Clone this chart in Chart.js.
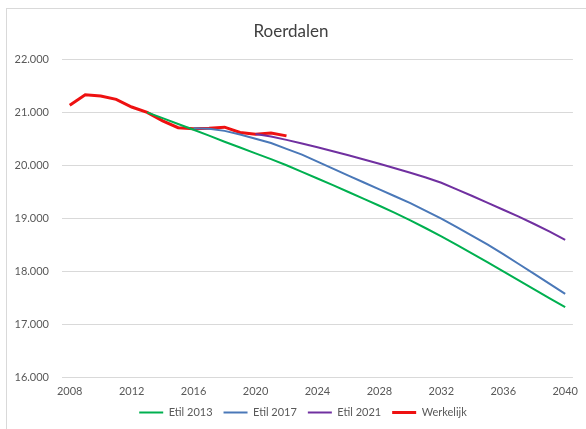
<!DOCTYPE html>
<html>
<head>
<meta charset="utf-8">
<script src="https://cdn.jsdelivr.net/npm/chart.js@4.4.1/dist/chart.umd.min.js"></script>
<style>
  html, body { margin: 0; padding: 0; background: #fff; }
  canvas { display: block; }
</style>
</head>
<body>
<canvas id="chart" width="586" height="429"></canvas>
<script>
// years on the category axis
const years = [];
for (let y = 2008; y <= 2040; y++) years.push(y);

// one value per year (null = no value)
const etil2013 = [null, null, null, null, null,
  21000, 20890, 20780, 20670, 20560, 20445, 20335, 20225, 20115, 20000,
  19875, 19750, 19625, 19495, 19365, 19235, 19100, 18960, 18810, 18655,
  18495, 18330, 18165, 17995, 17825, 17655, 17485, 17320];

const etil2017 = [null, null, null, null, null, null, null, null,
  20700, 20690, 20650, 20580, 20500, 20420, 20310,
  20200, 20070, 19935, 19805, 19675, 19545, 19415, 19285, 19140, 18990,
  18830, 18665, 18500, 18320, 18135, 17950, 17760, 17570];

const etil2021 = [null, null, null, null, null, null, null, null, null, null, null, null,
  20590, 20545, 20480,
  20410, 20340, 20265, 20190, 20110, 20030, 19945, 19860, 19770, 19670,
  19545, 19420, 19290, 19160, 19030, 18890, 18745, 18590];

const werkelijk = [21135, 21330, 21310, 21245, 21100, 21000, 20840, 20710,
  20690, 20700, 20720, 20620, 20585, 20610, 20555];

const yTicks = { min: 16000, max: 22000, step: 1000 };

const font = 'Lato, "Open Sans", sans-serif';
const textGrey = '#595959';

// white page with the light grey frame round the chart
const frame = {
  id: 'frame',
  beforeDraw(chart) {
    const ctx = chart.ctx;
    ctx.save();
    ctx.fillStyle = '#fff';
    ctx.fillRect(0, 0, chart.width, chart.height);
    ctx.strokeStyle = '#d9d9d9';
    ctx.lineWidth = 1;
    ctx.strokeRect(6.5, 8.5, chart.width + 10, chart.height + 10);
    ctx.restore();
  }
};

// the legend sits a bit right of the page centre, like in Excel
const nudgeLegend = {
  id: 'nudgeLegend',
  afterLayout(chart) {
    chart.legend.left += 12;
    chart.legend.right += 12;
  }
};

function line(label, data, color, width) {
  return {
    label: label,
    data: data,
    borderColor: color,
    backgroundColor: color,
    borderWidth: width,
    pointRadius: 0,
    pointHoverRadius: 0,
    tension: 0,
    fill: false
  };
}

new Chart(document.getElementById('chart'), {
  type: 'line',
  data: {
    labels: years,
    datasets: [
      line('Etil 2013', etil2013, '#00b050', 2),
      line('Etil 2017', etil2017, '#4a78b8', 2),
      line('Etil 2021', etil2021, '#7030a0', 2),
      line('Werkelijk', werkelijk, '#ee1111', 3)
    ]
  },
  options: {
    responsive: false,
    animation: false,
    layout: { padding: { top: 8, left: 0, right: 4, bottom: 1 } },
    plugins: {
      title: {
        display: true,
        text: 'Roerdalen',
        color: '#404040',
        font: { family: font, size: 17, weight: 'normal' },
        padding: { top: 13, bottom: 18 }
      },
      legend: {
        position: 'bottom',
        labels: {
          usePointStyle: true,
          pointStyle: 'line',
          pointStyleWidth: 24,
          boxHeight: 11,
          padding: 11,
          color: textGrey,
          font: { family: font, size: 11 }
        }
      },
      tooltip: { enabled: false }
    },
    scales: {
      x: {
        type: 'category',
        offset: true,
        grid: { display: false, drawTicks: false },
        border: { display: false },
        ticks: {
          autoSkip: false,
          maxRotation: 0,
          padding: 8,
          color: textGrey,
          font: { family: font, size: 11 },
          callback: function (v, i) {
            const y = years[i];
            return y % 4 === 0 ? String(y) : '';
          }
        },
        afterFit: function (s) { s.height = 19; }
      },
      y: {
        min: yTicks.min,
        max: yTicks.max,
        grid: { color: '#d9d9d9', drawTicks: false },
        border: { display: false },
        ticks: {
          stepSize: yTicks.step,
          padding: 13,
          color: textGrey,
          font: { family: font, size: 11 },
          callback: function (v) { return v.toLocaleString('nl-NL', { minimumFractionDigits: 0 }).replace(/\s/g, '.'); }
        },
        afterFit: function (s) { s.width = 62; }
      }
    }
  },
  plugins: [frame, nudgeLegend]
});
</script>
</body>
</html>
